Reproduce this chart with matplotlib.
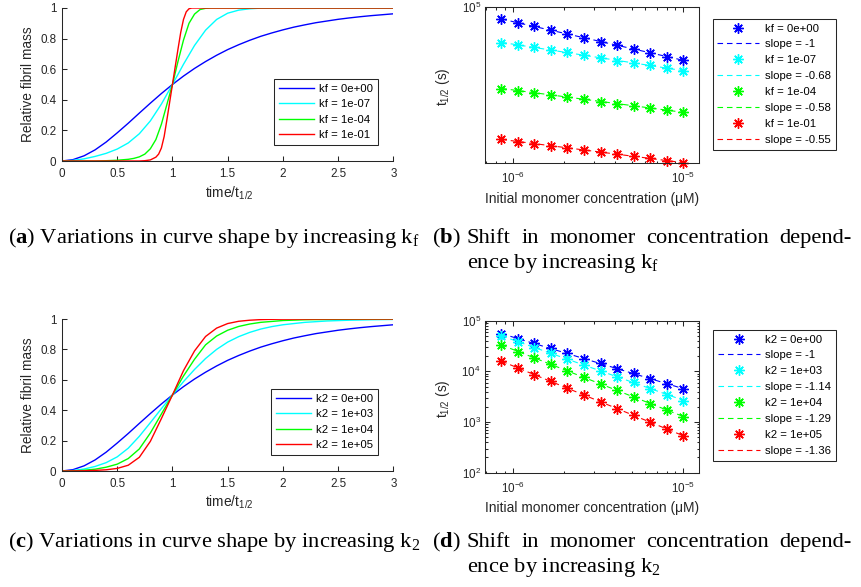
import numpy as np
import matplotlib
matplotlib.use('Agg')
import matplotlib.pyplot as plt
from matplotlib.lines import Line2D
from matplotlib.ticker import LogLocator, NullLocator, NullFormatter, FormatStrFormatter, FixedLocator

plt.rcParams['font.family'] = ['Liberation Sans', 'DejaVu Sans']
plt.rcParams['mathtext.fontset'] = 'custom'
plt.rcParams['mathtext.rm'] = 'Liberation Serif'
plt.rcParams['mathtext.it'] = 'Liberation Serif:italic'
plt.rcParams['mathtext.bf'] = 'Liberation Serif:bold'

# ---------------- DATA ----------------
# shared curve: no secondary process (kf = 0 / k2 = 0)
time_blue = [0.0, 0.1, 0.2, 0.3, 0.4, 0.5, 0.6, 0.7, 0.8, 0.9, 1.0, 1.1, 1.2, 1.3, 1.4, 1.5,
             1.6, 1.7, 1.8, 1.9, 2.0, 2.1, 2.2, 2.3, 2.4, 2.5, 2.6, 2.7, 2.8, 2.9, 3.0]
mass_blue = [0.0, 0.009, 0.034, 0.073, 0.124, 0.184, 0.247, 0.313, 0.378, 0.441, 0.500, 0.555,
             0.605, 0.650, 0.691, 0.728, 0.760, 0.789, 0.815, 0.837, 0.857, 0.875, 0.890, 0.904,
             0.915, 0.926, 0.935, 0.943, 0.950, 0.956, 0.962]

# panel (a): increasing kf
time_a_cyan = [0.0, 0.1, 0.2, 0.3, 0.4, 0.5, 0.6, 0.7, 0.8, 0.9, 1.0, 1.1, 1.2, 1.3, 1.4, 1.5,
               1.6, 1.7, 1.8, 1.9, 3.0]
mass_a_cyan = [0.0, 0.004, 0.014, 0.030, 0.050, 0.078, 0.118, 0.178, 0.262, 0.372, 0.500, 0.632,
               0.755, 0.855, 0.925, 0.966, 0.986, 0.995, 0.999, 1.0, 1.0]
time_a_green = [0.0, 0.3, 0.4, 0.5, 0.6, 0.65, 0.7, 0.75, 0.8, 0.85, 0.9, 0.95, 1.0, 1.05, 1.1,
                1.15, 1.2, 1.25, 1.3, 1.35, 3.0]
mass_a_green = [0.0, 0.0, 0.002, 0.005, 0.011, 0.017, 0.027, 0.045, 0.080, 0.140, 0.240, 0.370,
                0.500, 0.650, 0.790, 0.900, 0.960, 0.990, 0.998, 1.0, 1.0]
time_a_red = [0.0, 0.7, 0.75, 0.8, 0.85, 0.875, 0.9, 0.925, 0.95, 0.975, 1.0, 1.025, 1.05, 1.075,
              1.1, 1.125, 1.15, 1.175, 3.0]
mass_a_red = [0.0, 0.0, 0.002, 0.007, 0.025, 0.045, 0.085, 0.160, 0.270, 0.385, 0.500, 0.615,
              0.730, 0.840, 0.925, 0.975, 0.995, 1.0, 1.0]

# panel (c): increasing k2
time_c_cyan = [0.0, 0.1, 0.2, 0.3, 0.4, 0.5, 0.6, 0.7, 0.8, 0.9, 1.0, 1.1, 1.2, 1.3, 1.4, 1.5,
               1.6, 1.7, 1.8, 1.9, 2.0, 2.2, 2.4, 2.6, 2.8, 3.0]
mass_c_cyan = [0.0, 0.003, 0.013, 0.030, 0.055, 0.093, 0.150, 0.228, 0.318, 0.410, 0.500, 0.588,
               0.668, 0.740, 0.800, 0.848, 0.884, 0.912, 0.934, 0.950, 0.962, 0.978, 0.987,
               0.992, 0.995, 0.997]
time_c_green = [0.0, 0.1, 0.2, 0.3, 0.4, 0.5, 0.6, 0.7, 0.8, 0.9, 1.0, 1.1, 1.2, 1.3, 1.4, 1.5,
                1.6, 1.7, 1.8, 2.0, 2.2, 2.5, 3.0]
mass_c_green = [0.0, 0.001, 0.005, 0.012, 0.025, 0.045, 0.082, 0.145, 0.250, 0.375, 0.500, 0.625,
                0.735, 0.830, 0.888, 0.926, 0.951, 0.967, 0.978, 0.990, 0.995, 0.998, 0.999]
time_c_red = [0.0, 0.1, 0.2, 0.3, 0.4, 0.5, 0.6, 0.7, 0.8, 0.9, 1.0, 1.1, 1.2, 1.3, 1.4, 1.5,
              1.6, 1.7, 1.8, 1.9, 2.0, 2.5, 3.0]
mass_c_red = [0.0, 0.0005, 0.0015, 0.004, 0.008, 0.017, 0.038, 0.090, 0.195, 0.345, 0.500, 0.660,
              0.790, 0.885, 0.940, 0.970, 0.985, 0.992, 0.996, 0.998, 0.999, 1.0, 1.0]

# panels (b), (d): half times vs initial monomer concentration
conc = [8.59e-7, 1.074e-6, 1.342e-6, 1.678e-6, 2.097e-6, 2.621e-6, 3.277e-6, 4.096e-6,
        5.12e-6, 6.4e-6, 8.0e-6, 1.0e-5]
thalf_kf_0 = [48400, 38600, 30800, 24700, 19600, 15400, 12200, 9820, 7680, 6120, 4790, 3910]
thalf_kf_1em7 = [11500, 10000, 8480, 7220, 6240, 5310, 4500, 3810, 3310, 2810, 2390, 2030]
thalf_kf_1em4 = [684, 604, 525, 464, 403, 356, 308, 272, 236, 209, 181, 157]
thalf_kf_1em1 = [30.5, 26.4, 22.9, 20.3, 17.9, 15.6, 13.8, 12.2, 10.8, 9.5, 8.2, 7.1]
thalf_k2_0 = [54700, 44200, 35800, 28500, 22700, 17500, 14400, 11300, 9160, 7070, 5710, 4550]
thalf_k2_1e3 = [49900, 38000, 29300, 22700, 17800, 13500, 10300, 7850, 6090, 4550, 3470, 2640]
thalf_k2_1e4 = [32700, 24400, 18400, 14000, 10300, 7630, 5710, 4230, 3120, 2300, 1730, 1270]
thalf_k2_1e5 = [16000, 11700, 8600, 6370, 4630, 3370, 2490, 1830, 1360, 989, 740, 537]

labels_kf = ['kf = 0e+00', 'kf = 1e-07', 'kf = 1e-04', 'kf = 1e-01']
labels_k2 = ['k2 = 0e+00', 'k2 = 1e+03', 'k2 = 1e+04', 'k2 = 1e+05']
slopes_kf = ['slope = -1', 'slope = -0.68', 'slope = -0.58', 'slope = -0.55']
slopes_k2 = ['slope = -1', 'slope = -1.14', 'slope = -1.29', 'slope = -1.36']
colors = ['#0000ff', '#00ffff', '#00ff00', '#ff0000']

# ---------------- FIGURE ----------------
W, H = 861, 587
fig = plt.figure(figsize=(W / 100, H / 100), dpi=100)
fig.patch.set_facecolor('white')
AXC = (0.15, 0.15, 0.15)


def rect(l, t, r, b):
    return [l / W, 1 - b / H, (r - l) / W, (b - t) / H]


def fx(x):
    return x / W


def fy(y):
    return 1 - y / H


ax_a = fig.add_axes(rect(62, 8, 393.3, 161))
ax_b = fig.add_axes(rect(485, 7.3, 699.3, 162.7))
ax_c = fig.add_axes(rect(62, 319, 393.3, 471))
ax_d = fig.add_axes(rect(485, 320.7, 699.3, 472.7))

TICK_FS = 8.4
LAB_FS = 9.9
LEG_FS = 8.2


def style_axes(ax, box):
    for s in ['left', 'bottom', 'top', 'right']:
        ax.spines[s].set_color(AXC)
        ax.spines[s].set_linewidth(0.75)
    if not box:
        ax.spines['top'].set_visible(False)
        ax.spines['right'].set_visible(False)
    ax.tick_params(which='both', direction='in', color=AXC, labelcolor=AXC,
                   labelsize=TICK_FS, width=0.75, top=box, right=box)
    ax.tick_params(which='major', length=3.3)
    ax.tick_params(which='minor', length=1.8)


def curve_panel(ax, curves, labels, leg_xy):
    for (t, m), c, lab in zip(curves, colors, labels):
        ax.plot(t, m, color=c, lw=1.0, label=lab)
    ax.set_xlim(0, 3)
    ax.set_ylim(0, 1)
    ax.set_xticks([0, 0.5, 1, 1.5, 2, 2.5, 3])
    ax.set_yticks([0, 0.2, 0.4, 0.6, 0.8, 1])
    ax.xaxis.set_major_formatter(FormatStrFormatter('%g'))
    ax.yaxis.set_major_formatter(FormatStrFormatter('%g'))
    style_axes(ax, box=False)
    ax.tick_params(axis='x', pad=5)
    ax.tick_params(axis='y', pad=4)
    ax.set_xlabel(r'time/t$_{\mathdefault{1/2}}$', fontsize=LAB_FS, color=AXC, va='center')
    ax.xaxis.set_label_coords(0.505, -0.21)
    ax.set_ylabel('Relative fibril mass', fontsize=LAB_FS, color=AXC, va='center')
    ax.yaxis.set_label_coords(-0.102, 0.5)
    leg = ax.legend(loc='upper left', bbox_to_anchor=(fx(leg_xy[0]), fy(leg_xy[1])),
                    bbox_transform=fig.transFigure, borderaxespad=0, fontsize=LEG_FS,
                    handlelength=3.1, handletextpad=0.4, labelspacing=0.46, borderpad=0.45,
                    fancybox=False, framealpha=1, edgecolor=AXC)
    leg.get_frame().set_linewidth(0.75)


curve_panel(ax_a, [(time_blue, mass_blue), (time_a_cyan, mass_a_cyan),
                   (time_a_green, mass_a_green), (time_a_red, mass_a_red)],
            labels_kf, (274, 79))
curve_panel(ax_c, [(time_blue, mass_blue), (time_c_cyan, mass_c_cyan),
                   (time_c_green, mass_c_green), (time_c_red, mass_c_red)],
            labels_k2, (271, 389))

MARK = (8, 2, 0)


def scaling_panel(ax, series, labels, slopes, leg_xy, ylim, full_y):
    handles, texts = [], []
    x = np.array(conc)
    for th, c, lab, sl in zip(series, colors, labels, slopes):
        y = np.array(th, dtype=float)
        p = np.polyfit(np.log10(x), np.log10(y), 1)
        xf = np.array([x[0], x[-1]])
        ax.plot(xf, 10 ** np.polyval(p, np.log10(xf)), color=c, lw=0.8,
                dashes=(5, 3.5))
        ax.plot(x, y, ls='none', marker=MARK, ms=7.5, mew=1.0, color=c, clip_on=False)
        handles.append(Line2D([], [], ls='none', marker=MARK, ms=7.5, mew=1.0, color=c))
        texts.append(lab)
        handles.append(Line2D([], [], color=c, lw=0.8, dashes=(5, 3.5)))
        texts.append(sl)
    ax.set_xscale('log')
    ax.set_yscale('log')
    ax.set_xlim(6.89e-7, 1.242e-5)
    ax.set_ylim(*ylim)
    style_axes(ax, box=True)
    ax.xaxis.set_major_locator(FixedLocator([1e-6, 1e-5]))
    ax.xaxis.set_minor_locator(LogLocator(base=10, subs=np.arange(2, 10)))
    ax.xaxis.set_minor_formatter(NullFormatter())
    if full_y:
        ax.yaxis.set_major_locator(FixedLocator([1e2, 1e3, 1e4, 1e5]))
        ax.yaxis.set_minor_locator(LogLocator(base=10, subs=np.arange(2, 10)))
    else:
        ax.yaxis.set_major_locator(FixedLocator([1e5]))
        ax.yaxis.set_minor_locator(NullLocator())
    ax.yaxis.set_minor_formatter(NullFormatter())
    ax.tick_params(axis='x', pad=6)
    ax.tick_params(axis='y', pad=3)
    ax.set_xlabel('Initial monomer concentration (\u03bcM)', fontsize=LAB_FS, color=AXC,
                  va='center')
    ax.xaxis.set_label_coords(0.5, -0.235)
    ax.set_ylabel(r't$_{\mathdefault{1/2}}$ (s)', fontsize=LAB_FS, color=AXC, va='center')
    ax.yaxis.set_label_coords(-0.195, 0.49)
    leg = ax.legend(handles, texts, loc='upper left',
                    bbox_to_anchor=(fx(leg_xy[0]), fy(leg_xy[1])),
                    bbox_transform=fig.transFigure, borderaxespad=0, fontsize=LEG_FS,
                    handlelength=3.7, handletextpad=0.5, labelspacing=0.52, borderpad=0.4,
                    numpoints=1, fancybox=False, framealpha=1, edgecolor=AXC)
    leg.get_frame().set_linewidth(0.75)


scaling_panel(ax_b, [thalf_kf_0, thalf_kf_1em7, thalf_kf_1em4, thalf_kf_1em1],
              labels_kf, slopes_kf, (712.7, 19), (7.2, 1e5), False)
scaling_panel(ax_d, [thalf_k2_0, thalf_k2_1e3, thalf_k2_1e4, thalf_k2_1e5],
              labels_k2, slopes_k2, (713, 330), (1e2, 1e5), True)

# ---------------- CAPTIONS ----------------
CAP_FS = 16.2
SERIF = ['Liberation Serif', 'DejaVu Serif']
renderer = fig.canvas.get_renderer()


def cap_text(x, y, s):
    return fig.text(fx(x), fy(y), s, fontsize=CAP_FS, family=SERIF, color='black',
                    ha='left', va='baseline')


def justified(x0, x1, y, words):
    ts = [cap_text(x0, y, w) for w in words]
    widths = [t.get_window_extent(renderer).width for t in ts]
    gap = (x1 - x0 - sum(widths)) / (len(words) - 1)
    pos = x0
    for t, w in zip(ts, widths):
        t.set_x(fx(pos))
        pos += w + gap


cap_text(8, 243, r'($\mathbf{a}$) Variations in curve shape by increasing k$_\mathrm{f}$')
cap_text(432, 243, r'($\mathbf{b}$)')
justified(467, 852, 243, ['Shift', 'in', 'monomer', 'concentration', 'depend-'])
cap_text(467, 268, r'ence by increasing k$_\mathrm{f}$')

cap_text(8, 547, r'($\mathbf{c}$) Variations in curve shape by increasing k$_\mathrm{2}$')
cap_text(432, 547, r'($\mathbf{d}$)')
justified(467, 852, 547, ['Shift', 'in', 'monomer', 'concentration', 'depend-'])
cap_text(467, 572, r'ence by increasing k$_\mathrm{2}$')

fig.savefig('out.png', dpi=100, facecolor='white')
